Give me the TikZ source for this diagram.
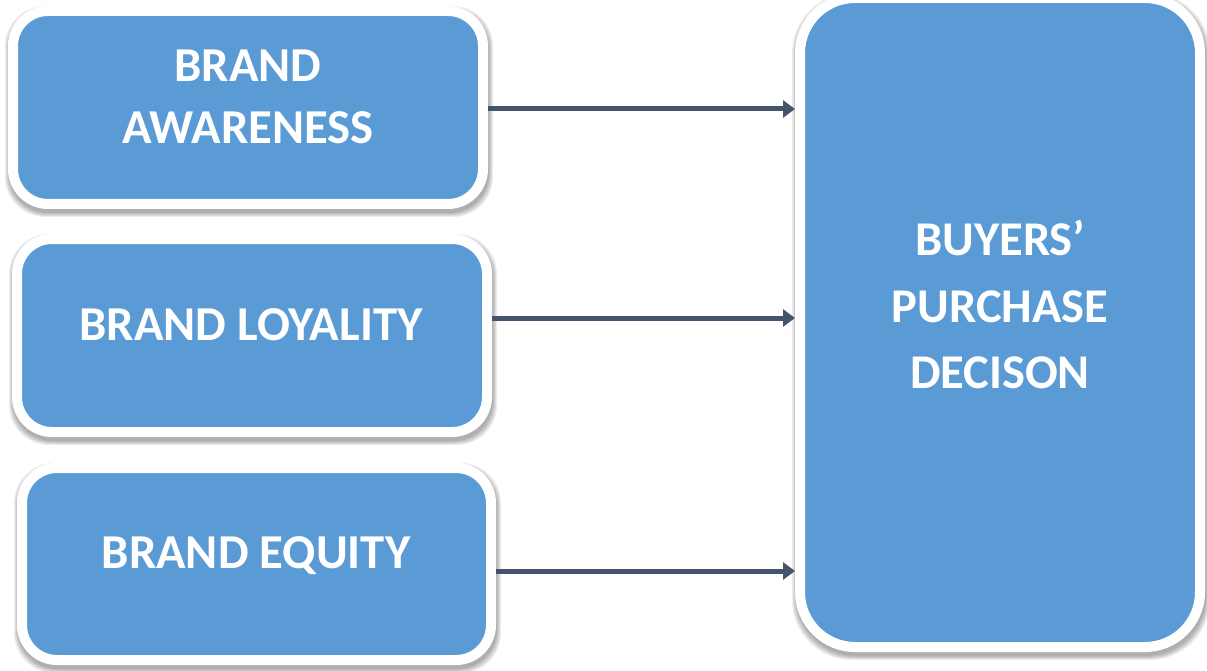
\documentclass[tikz,border=0pt]{standalone}
\usepackage{fontspec}
\setmainfont{Carlito}
\usetikzlibrary{arrows.meta,backgrounds}
\definecolor{boxblue}{HTML}{5B9BD5}
\definecolor{arrowslate}{HTML}{44546A}
\begin{document}
\begin{tikzpicture}[x=1pt,y=-1pt,
  panel/.style={fill=boxblue, draw=white, line width=10pt, inner sep=0pt,
    rounded corners=35pt, minimum width=470pt, minimum height=193pt},
  bigpanel/.style={panel, rounded corners=55pt, minimum width=400pt, minimum height=649pt},
  caption/.style={text=white, font=\fontsize{48.7}{62}\selectfont\bfseries,
    align=center, inner sep=0pt, text depth=0pt},
  link/.style={draw=arrowslate, line width=5pt, -{Triangle[length=12pt,width=17pt]}}]
\useasboundingbox (0,0) rectangle (1207,671);

% factor boxes and the decision box
\node[panel] (b1) at (248,107.5) {};
\node[panel] (b2) at (252,335.5) {};
\node[panel, minimum width=469pt, minimum height=192pt] (b3) at (256.5,564) {};
\node[bigpanel] (big) at (1000,322.5) {};

% captions
\node[caption] (t1) at (248,97) {BRAND\\AWARENESS};
\node[caption] (t2) at (251,325) {BRAND LOYALITY};
\node[caption] (t3) at (256,553) {BRAND EQUITY};
\node[caption, font=\fontsize{48.5}{66.5}\selectfont\bfseries] (t4) at (1000,304.5)
  {BUYERS’\\PURCHASE\\DECISON};

% connectors
\draw[link] (b1.east |- 0,109) -- (big.west |- 0,109);
\draw[link] (b2.east |- 0,318) -- (big.west |- 0,318);
\draw[link] (b3.east |- 0,571) -- (big.west |- 0,571);

% page background and soft shadows
\begin{scope}[on background layer]
  \fill[white] (0,0) rectangle (1207,671);
  \foreach \n/\r in {b1/40,b2/40,b3/40,big/60} {
    \foreach \k in {4,3,2,1,0} {
      \fill[black, opacity=0.07, rounded corners=\r pt]
        ([xshift={1-\k}, yshift={-(4+\k)}]\n.south west) rectangle
        ([xshift={1+\k}, yshift={-(4-\k)}]\n.north east);
    }
  }
\end{scope}
\end{tikzpicture}
\end{document}
